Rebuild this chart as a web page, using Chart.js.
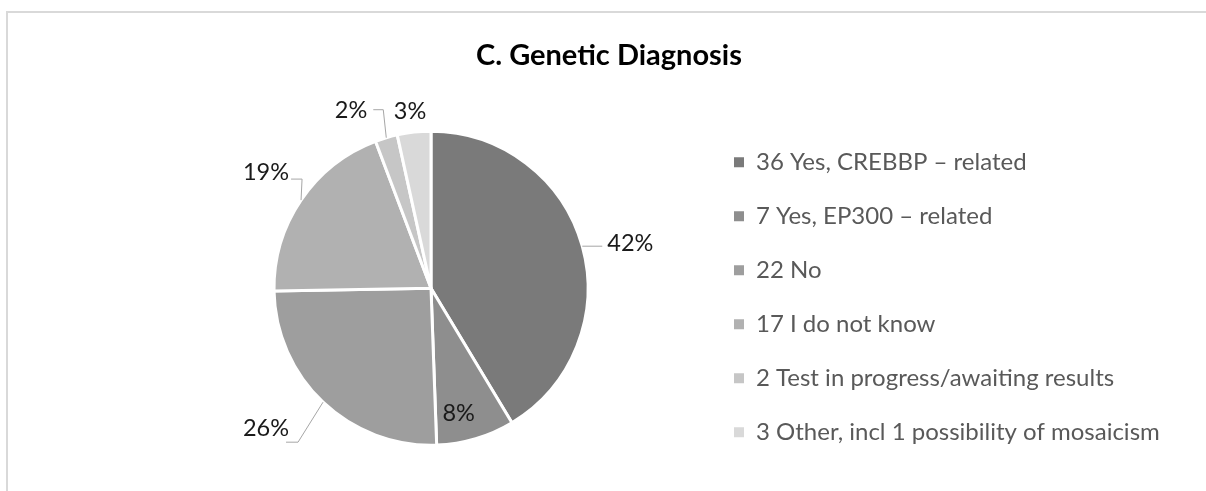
<!DOCTYPE html>
<html>
<head>
<meta charset="utf-8">
<title>C. Genetic Diagnosis</title>
<script src="https://cdn.jsdelivr.net/npm/chart.js@4.4.1/dist/chart.umd.min.js"></script>
<style>
  html, body { margin: 0; padding: 0; background: #fff; overflow: hidden; }
  #pie { display: block; }
</style>
</head>
<body>
<canvas id="pie" width="1206" height="491"></canvas>
<script>
// answers and counts as printed in the legend
const categories = [
    '36 Yes, CREBBP \u2013 related',
    '7 Yes, EP300 \u2013 related',
    '22 No',
    '17 I do not know',
    '2 Test in progress/awaiting results',
    '3 Other, incl 1 possibility of mosaicism'
];
const counts = [36, 7, 22, 17, 2, 3];
// percentages as shown on the slices
const pctLabels = ['42%', '8%', '26%', '19%', '2%', '3%'];
const sliceColors = ['#7a7a7a', '#8e8e8e', '#9e9e9e', '#b1b1b1', '#c6c6c6', '#d9d9d9'];

// light grey chart frame (top and left edges are all that show)
const chartFrame = {
    id: 'chartFrame',
    beforeDraw(chart) {
        const ctx = chart.ctx;
        ctx.save();
        ctx.fillStyle = '#ffffff';
        ctx.fillRect(0, 0, chart.width, chart.height);
        ctx.strokeStyle = '#d9d9d9';
        ctx.lineWidth = 2;
        ctx.beginPath();
        ctx.moveTo(7, chart.height);
        ctx.lineTo(7, 12);
        ctx.lineTo(chart.width, 12);
        ctx.stroke();
        ctx.restore();
    }
};

// draws the % labels, with Excel-like leader lines
const leaderLabels = {
    id: 'leaderLabels',
    afterDatasetsDraw(chart, args, opts) {
        const ctx = chart.ctx;
        const arcs = chart.getDatasetMeta(0).data;
        ctx.save();
        ctx.font = opts.font;
        ctx.fillStyle = opts.color;
        ctx.strokeStyle = opts.lineColor;
        ctx.lineWidth = 1;
        ctx.textBaseline = 'middle';
        arcs.forEach((arc, i) => {
            const p = arc.getProps(['x', 'y', 'startAngle', 'endAngle', 'outerRadius'], true);
            const mid = (p.startAngle + p.endAngle) / 2;
            const ex = p.x + p.outerRadius * Math.cos(mid);
            const ey = p.y + p.outerRadius * Math.sin(mid);
            const s = opts.layout[i];
            let x = ex, y = ey;
            if (s.path) {
                ctx.beginPath();
                ctx.moveTo(ex, ey);
                s.path.forEach(([dx, dy]) => {
                    x += dx;
                    y += dy;
                    ctx.lineTo(x, y);
                });
                ctx.stroke();
            }
            ctx.textAlign = s.align;
            ctx.fillText(pctLabels[i], x + s.tx, y + s.ty);
        });
        ctx.restore();
    }
};

// the legend box is kept narrow so the pie sits left of it; let its text run past it
const legendNoClip = {
    id: 'legendNoClip',
    afterLayout(chart) {
        if (chart.legend) chart.legend.right = chart.width;
    }
};

const ctx = document.getElementById('pie').getContext('2d');
new Chart(ctx, {
    type: 'pie',
    data: {
        labels: categories,
        datasets: [{
            data: counts,
            backgroundColor: sliceColors,
            borderColor: '#ffffff',
            borderWidth: 3,
            radius: 157
        }]
    },
    plugins: [chartFrame, leaderLabels, legendNoClip],
    options: {
        responsive: false,
        animation: false,
        events: [],
        layout: {
            padding: { left: 158, right: 146, top: 38, bottom: 5 }
        },
        plugins: {
            tooltip: { enabled: false },
            title: {
                display: true,
                text: 'C. Genetic Diagnosis',
                color: '#000000',
                font: { family: 'Lato', size: 29, weight: 'bold' },
                padding: { top: 0, bottom: 17.6 }
            },
            legend: {
                position: 'right',
                fullSize: false,
                maxWidth: 356,
                title: { display: true, text: '', padding: 0, font: { size: 15 } },
                labels: {
                    boxWidth: 10,
                    boxHeight: 10,
                    padding: 30,
                    color: '#595959',
                    font: { family: 'Lato', size: 24 },
                    generateLabels: chart =>
                        Chart.overrides.doughnut.plugins.legend.labels.generateLabels(chart)
                            .map(item => ({ ...item, lineWidth: 0 }))
                }
            },
            leaderLabels: {
                font: '23.5px Lato',
                color: '#1a1a1a',
                lineColor: '#a6a6a6',
                layout: [
                    { path: [[20, 0]], align: 'left', tx: 5, ty: -3 },
                    { path: null, align: 'center', tx: -17, ty: -25 },
                    { path: [[-25, 40], [-12, 0]], align: 'right', tx: 3, ty: -14 },
                    { path: [[1, -21], [-11, 0]], align: 'right', tx: -2, ty: -7 },
                    { path: [[-3, -28], [-10, 0]], align: 'right', tx: -6, ty: 1 },
                    { path: null, align: 'center', tx: -4, ty: -21 }
                ]
            }
        }
    }
});
</script>
</body>
</html>
